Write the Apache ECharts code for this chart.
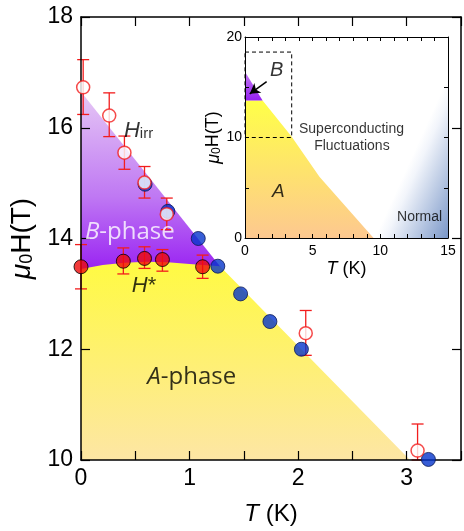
<!DOCTYPE html>
<html>
<head>
<meta charset="utf-8">
<script src="https://cdn.jsdelivr.net/npm/echarts@6/dist/echarts.min.js"></script>
<style>
  html,body{margin:0;padding:0;background:#fff;}
  #chart{width:464px;height:531px;}
</style>
</head>
<body>
<div id="chart"></div>
<script>
// H_irr (open red circles) with error bars
const irrT  = [0.02, 0.26, 0.40, 0.585, 0.79, 2.07, 3.10];
const irrH  = [16.73, 16.22, 15.55, 15.01, 14.44, 12.29, 10.17];
const irrLo = [16.24, 15.84, 15.25, 14.73, 14.16, 11.89, 10.00];
const irrHi = [17.23, 16.63, 15.85, 15.30, 14.73, 12.70, 10.65];

// H* (filled red circles) with error bars
const starT  = [0.0, 0.39, 0.585, 0.75, 1.12];
const starH  = [13.49, 13.59, 13.64, 13.62, 13.49];
const starLo = [13.09, 13.36, 13.46, 13.41, 13.28];
const starHi = [13.89, 13.83, 13.85, 13.80, 13.70];

// blue points
const blueT = [0.59, 0.80, 1.08, 1.26, 1.47, 1.74, 2.03, 3.20];
const blueH = [14.98, 14.49, 14.00, 13.50, 13.00, 12.50, 12.00, 10.01];

// phase boundaries (main panel)
const bPhase = [[0, 16.65], [1.28, 13.5], [1.28, 13.2], [0, 13.2]];
const aPhase = [[0, 13.45], [0.2, 13.52], [0.4, 13.56], [0.6, 13.58], [0.8, 13.57], [1.0, 13.54], [1.28, 13.5], [3.03, 10], [0, 10]];

// inset regions
const insB = [[0, 16.55], [1.3, 13.67], [0, 13.67]];
const insA = [[0, 13.67], [1.3, 13.67], [3.44, 10.1], [5.5, 6.1], [9.5, 0], [0, 0]];
const insNormal = [[9.6, 0], [15, 0], [15, 16]];
const insBox = [[0, 18.5], [3.45, 18.5], [3.45, 10], [0, 10], [0, 18.5]];
const insArrow = [[1.6, 15.55], [0.35, 14.35]];

const FONT = 'Liberation Sans, Arial, sans-serif';
const chart = echarts.init(document.getElementById('chart'));
const lg = echarts.graphic.LinearGradient;

function polygon(pts, fill, xi, yi) {
    return {
        type: 'custom', xAxisIndex: xi, yAxisIndex: yi, silent: true, z: 1,
        data: pts, encode: {x: 0, y: 1},
        renderItem: function (params, api) {
            if (params.dataIndex > 0) return;
            const p = pts.map(q => api.coord(q));
            return {type: 'polygon', shape: {points: p}, style: {fill: typeof fill === 'function' ? fill(p) : fill}};
        }
    };
}

// fade from white along the first edge (p0 -> p2) toward the corner p1
function normalFade(p) {
    const dx = p[2][0] - p[0][0], dy = p[2][1] - p[0][1];
    const len = Math.hypot(dx, dy);
    const nx = -dy / len, ny = dx / len;
    const mx = (p[0][0] + p[2][0]) / 2, my = (p[0][1] + p[2][1]) / 2;
    let d = (p[1][0] - mx) * nx + (p[1][1] - my) * ny;
    const sx = d < 0 ? -nx : nx, sy = d < 0 ? -ny : ny;
    d = Math.abs(d);
    return new lg(mx, my, mx + sx * d, my + sy * d,
        [{offset: 0, color: '#ffffff'}, {offset: 0.15, color: '#f2f5fb'}, {offset: 1, color: '#7a97c8'}], true);
}

function errorBars(t, lo, hi) {
    return {
        type: 'custom', xAxisIndex: 0, yAxisIndex: 0, silent: true, z: 3,
        data: t.map((v, i) => [v, lo[i], hi[i]]),
        encode: {x: 0, y: [1, 2]},
        renderItem: function (params, api) {
            const a = api.coord([api.value(0), api.value(1)]);
            const b = api.coord([api.value(0), api.value(2)]);
            const st = {stroke: '#f21d1d', lineWidth: 1.3};
            return {type: 'group', children: [
                {type: 'line', shape: {x1: a[0], y1: a[1], x2: b[0], y2: b[1]}, style: st},
                {type: 'line', shape: {x1: a[0] - 6, y1: a[1], x2: a[0] + 6, y2: a[1]}, style: st},
                {type: 'line', shape: {x1: b[0] - 6, y1: b[1], x2: b[0] + 6, y2: b[1]}, style: st}
            ]};
        }
    };
}

function notes(list, xi, yi) {
    return {
        type: 'scatter', xAxisIndex: xi, yAxisIndex: yi, silent: true, z: 6,
        symbolSize: 1, itemStyle: {color: 'rgba(0,0,0,0)'},
        data: list.map(n => ({value: n.at, label: n.label})),
        label: {show: true, position: 'inside', fontFamily: FONT, color: '#000'}
    };
}

function mainX(pos) {
    return {
        type: 'value', gridIndex: 0, position: pos, min: 0, max: 3.5, interval: 0.5, z: 3,
        axisLine: {onZero: false, lineStyle: {color: '#000', width: 1.5}}, splitLine: {show: false},
        axisTick: {show: true, inside: true, length: 9, lineStyle: {color: '#000', width: 1.2}},
        axisLabel: {show: pos === 'bottom', fontSize: 23, color: '#000', fontFamily: FONT, margin: 7,
            formatter: v => Number.isInteger(v) ? String(v) : ''}
    };
}
function mainY(pos) {
    return {
        type: 'value', gridIndex: 0, position: pos, min: 10, max: 18, interval: 2, z: 3,
        axisLine: {onZero: false, lineStyle: {color: '#000', width: 1.5}}, splitLine: {show: false},
        axisTick: {show: true, inside: true, length: 9, lineStyle: {color: '#000', width: 1.2}},
        axisLabel: {show: pos === 'left', fontSize: 23, color: '#000', fontFamily: FONT, margin: 8}
    };
}
function insX(pos) {
    return {
        type: 'value', gridIndex: 1, position: pos, min: 0, max: 15, interval: 1, z: 3,
        axisLine: {onZero: false, lineStyle: {color: '#000', width: 1}}, splitLine: {show: false},
        axisTick: {show: true, inside: true, length: 4, lineStyle: {color: '#000'}},
        axisLabel: {show: pos === 'bottom', fontSize: 14, color: '#000', fontFamily: FONT, margin: 6,
            formatter: v => v % 5 === 0 ? String(v) : ''}
    };
}
function insY(pos) {
    return {
        type: 'value', gridIndex: 1, position: pos, min: 0, max: 20, interval: 5, z: 3,
        axisLine: {onZero: false, lineStyle: {color: '#000', width: 1}}, splitLine: {show: false},
        axisTick: {show: true, inside: true, length: 4, lineStyle: {color: '#000'}},
        axisLabel: {show: pos === 'left', fontSize: 14, color: '#000', fontFamily: FONT, margin: 3,
            formatter: v => v % 10 === 0 ? String(v) : ''}
    };
}

const xs = [mainX('bottom'), mainX('top'), insX('bottom'), insX('top')];
const ys = [mainY('left'), mainY('right'), insY('left'), insY('right')];

xs[0].name = '{i|T} (K)';
xs[0].nameLocation = 'middle';
xs[0].nameGap = 42;
xs[0].nameTextStyle = {fontSize: 24, color: '#000', fontFamily: FONT, rich: {i: {fontSize: 24, fontStyle: 'italic', fontFamily: FONT}}};
ys[0].name = '{i|μ}{s|0}H(T)';
ys[0].nameLocation = 'middle';
ys[0].nameRotate = 90;
ys[0].nameGap = 38;
ys[0].nameTextStyle = {fontSize: 28, color: '#000', fontFamily: FONT, rich: {
    i: {fontSize: 28, fontStyle: 'italic', fontFamily: FONT},
    s: {fontSize: 18, fontFamily: FONT, verticalAlign: 'bottom', lineHeight: 4}}};
xs[2].name = '{i|T} (K)';
xs[2].nameLocation = 'middle';
xs[2].nameGap = 22;
xs[2].nameTextStyle = {fontSize: 18, color: '#000', fontFamily: FONT, rich: {i: {fontSize: 18, fontStyle: 'italic', fontFamily: FONT}}};
ys[2].name = '{i|μ}{s|0}H(T)';
ys[2].nameLocation = 'middle';
ys[2].nameRotate = 90;
ys[2].nameGap = 20;
ys[2].nameTextStyle = {fontSize: 18, color: '#000', fontFamily: FONT, rich: {
    i: {fontSize: 18, fontStyle: 'italic', fontFamily: FONT},
    s: {fontSize: 12, fontFamily: FONT, verticalAlign: 'bottom', lineHeight: 3}}};

const purpleFill = new lg(0, 0, 0, 1, [{offset: 0, color: '#e6c8f5'}, {offset: 0.55, color: '#bf78f3'}, {offset: 1, color: '#9314f2'}]);
const yellowFill = new lg(0, 0, 0, 1, [{offset: 0, color: '#fffa42'}, {offset: 1, color: '#fde6a4'}]);
const insBFill = new lg(0, 0, 0, 1, [{offset: 0, color: '#c47cf2'}, {offset: 1, color: '#9420ef'}]);
const insAFill = new lg(0, 0, 0, 1, [{offset: 0, color: '#ffff48'}, {offset: 1, color: '#fdc890'}]);

const bigRich = {
    i: {fontStyle: 'italic', fontSize: 22, fontFamily: FONT},
    s: {fontSize: 15, fontFamily: FONT, verticalAlign: 'bottom', lineHeight: 2}
};

const option = {
    animation: false,
    backgroundColor: '#fff',
    grid: [
        {left: 81, top: 17, width: 382, height: 446},
        {left: 245, top: 37, width: 203, height: 201}
    ],
    xAxis: xs,
    yAxis: ys,
    series: [
        polygon(bPhase, purpleFill, 0, 0),
        polygon(aPhase, yellowFill, 0, 0),
        polygon(insA, insAFill, 2, 2),
        polygon(insB, insBFill, 2, 2),
        polygon(insNormal, normalFade, 2, 2),
        {
            type: 'line', xAxisIndex: 2, yAxisIndex: 2, silent: true, z: 3, symbol: 'none',
            data: insBox, lineStyle: {color: '#000', width: 1, type: [4, 3]}
        },
        {
            type: 'line', xAxisIndex: 2, yAxisIndex: 2, silent: true, z: 3, symbol: 'none',
            data: [], lineStyle: {width: 0},
            markLine: {
                silent: true, symbol: ['none', 'arrow'], symbolSize: [9, 10], label: {show: false},
                lineStyle: {color: '#000', width: 1.5, type: 'solid'},
                data: [[{coord: insArrow[0]}, {coord: insArrow[1]}]]
            }
        },
        errorBars(irrT, irrLo, irrHi),
        errorBars(starT, starLo, starHi),
        {
            type: 'scatter', xAxisIndex: 0, yAxisIndex: 0, z: 4, clip: false, symbolSize: 14,
            data: blueT.map((t, i) => [t, blueH[i]]),
            itemStyle: {color: '#0535cc', borderColor: '#0b1a55', borderWidth: 1}
        },
        {
            type: 'scatter', xAxisIndex: 0, yAxisIndex: 0, z: 5, clip: false, symbolSize: 13,
            data: irrT.map((t, i) => [t, irrH[i]]),
            itemStyle: {color: '#fff', borderColor: '#f21d1d', borderWidth: 1.5}
        },
        {
            type: 'scatter', xAxisIndex: 0, yAxisIndex: 0, z: 5, clip: false, symbolSize: 14,
            data: starT.map((t, i) => [t, starH[i]]),
            itemStyle: {color: '#ee0a0a', borderColor: '#000', borderWidth: 1}
        },
        notes([
            {at: [0.53, 15.95], label: {formatter: '{i|H}{s|irr}', rich: bigRich}},
            {at: [0.58, 13.14], label: {formatter: '{i|H}*', fontSize: 22, rich: bigRich}},
            {at: [0.45, 14.12], label: {formatter: '{i|B}-phase', fontSize: 24, color: '#fff', fontFamily: 'Open Sans',
                rich: {i: {fontStyle: 'italic', fontSize: 24, fontFamily: 'Open Sans', color: '#fff'}}}},
            {at: [1.02, 11.5], label: {formatter: '{i|A}-phase', fontSize: 24, fontFamily: 'Open Sans',
                rich: {i: {fontStyle: 'italic', fontSize: 24, fontFamily: 'Open Sans'}}}}
        ], 0, 0),
        notes([
            {at: [2.34, 16.7], label: {formatter: 'B', fontSize: 20, fontStyle: 'italic'}},
            {at: [2.46, 4.63], label: {formatter: 'A', fontSize: 19, fontStyle: 'italic'}},
            {at: [7.87, 10.85], label: {formatter: 'Superconducting', fontSize: 14}},
            {at: [7.9, 9.17], label: {formatter: 'Fluctuations', fontSize: 14}},
            {at: [12.9, 2.05], label: {formatter: 'Normal', fontSize: 14}}
        ], 2, 2)
    ]
};
chart.setOption(option);
window.addEventListener('resize', () => chart.resize());
</script>
</body>
</html>
